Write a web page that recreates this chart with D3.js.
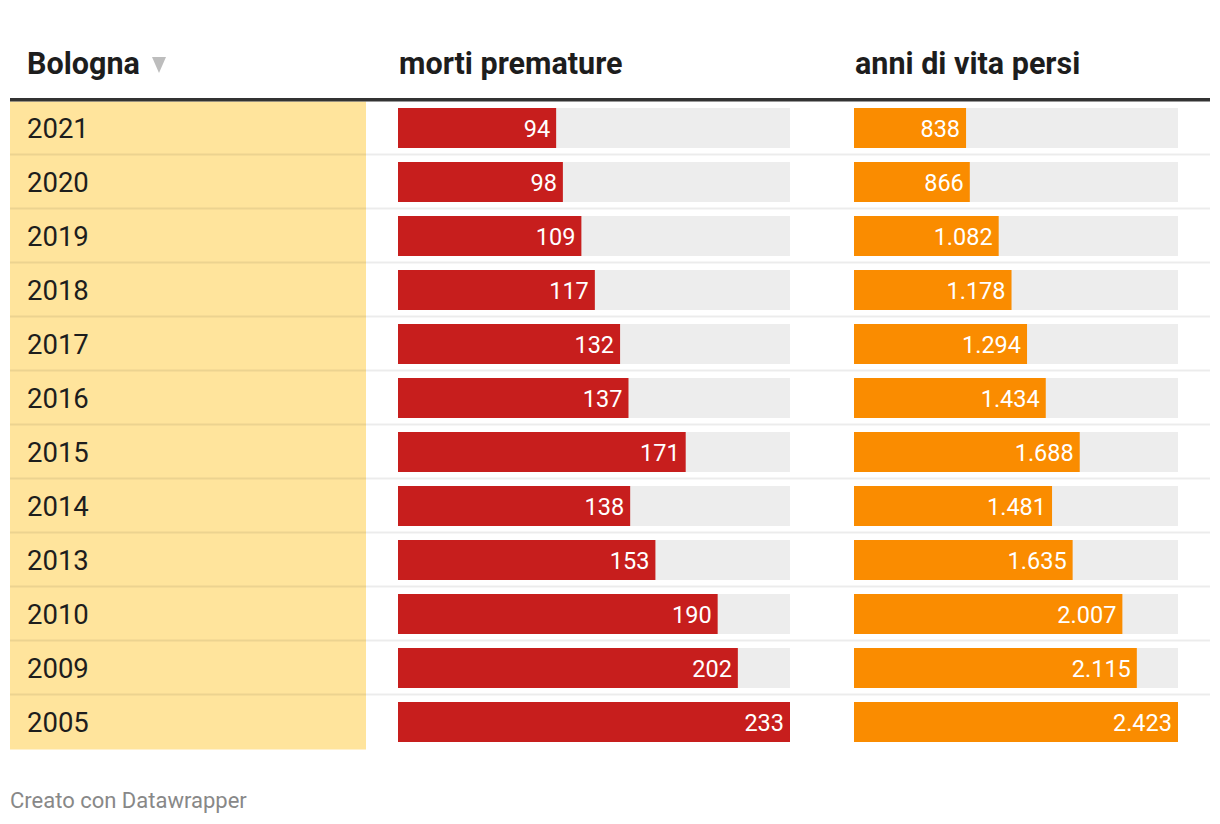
<!DOCTYPE html>
<html><head><meta charset="utf-8">
<script src="https://cdn.jsdelivr.net/npm/d3@7"></script>
<style>
html,body{margin:0;padding:0;background:#fff;}
svg{display:block;font-family:Roboto, "Noto Sans", sans-serif;}
</style></head>
<body>
<script>
const years = ["2021","2020","2019","2018","2017","2016","2015","2014","2013","2010","2009","2005"];
const morti = [94,98,109,117,132,137,171,138,153,190,202,233];
const anni = [838,866,1082,1178,1294,1434,1688,1481,1635,2007,2115,2423];
const headers = ["Bologna","morti premature","anni di vita persi"];
const footer = "Creato con Datawrapper";

const W=1220,H=824;
const svg=d3.select("body").append("svg").attr("width",W).attr("height",H);

const y=d3.scaleBand().domain(years).range([101.5,101.5+54*years.length]).paddingInner(0);
const xM=d3.scaleLinear().domain([0,d3.max(morti)]).range([398,790]);
const xA=d3.scaleLinear().domain([0,d3.max(anni)]).range([854,1178]);
const fmt=d3.formatLocale({decimal:",",thousands:".",grouping:[3],currency:["€",""]}).format(",d");

// yellow first column
svg.append("rect").attr("x",10).attr("y",y.range()[0]).attr("width",356)
  .attr("height",y.range()[1]-y.range()[0]).attr("fill","#ffe49c");

// header
const hy=74;
const hx=[27,399,855];
svg.selectAll(".hdr").data(headers).enter().append("text")
  .attr("x",(d,i)=>hx[i]).attr("y",hy).attr("font-size",30.5).attr("font-weight",700).attr("fill","#1d1d1d").text(d=>d);
svg.append("path").attr("d","M152,57 L166,57 L159,73 Z").attr("fill","#bdbdbd");
svg.append("rect").attr("x",10).attr("y",98).attr("width",1200).attr("height",3.5).attr("fill","#333");

// separators
svg.selectAll(".sep").data(years.slice(0,-1)).enter().append("rect")
  .attr("x",10).attr("width",1200).attr("y",d=>y(d)+y.bandwidth()-2).attr("height",2)
  .attr("fill","rgba(0,0,0,0.075)");

// year labels
svg.selectAll(".yr").data(years).enter().append("text")
  .attr("x",27).attr("y",d=>y(d)+y.bandwidth()/2).attr("dy","0.36em")
  .attr("font-size",27.5).attr("fill","#1d1d1d").text(d=>d);

function barCol(vals,x,color){
  const g=svg.append("g");
  g.selectAll(".bg").data(years).enter().append("rect")
    .attr("x",x.range()[0]).attr("y",d=>y(d)+6.5).attr("width",x.range()[1]-x.range()[0]).attr("height",40).attr("fill","#ededed");
  g.selectAll(".bar").data(vals).enter().append("rect")
    .attr("x",x(0)).attr("y",(d,i)=>y(years[i])+6.5).attr("width",d=>x(d)-x(0)).attr("height",40).attr("fill",color);
  g.selectAll(".lbl").data(vals).enter().append("text")
    .attr("x",d=>x(d)-6).attr("y",(d,i)=>y(years[i])+y.bandwidth()/2).attr("dy","0.36em")
    .attr("text-anchor","end").attr("font-size",23.5).attr("fill","#fff").text(d=>fmt(d));
}
barCol(morti,xM,"#c71e1d");
barCol(anni,xA,"#fa8c00");

svg.append("text").attr("x",10).attr("y",808).attr("font-size",22).attr("fill","#888").text(footer);
</script>
</body></html>
